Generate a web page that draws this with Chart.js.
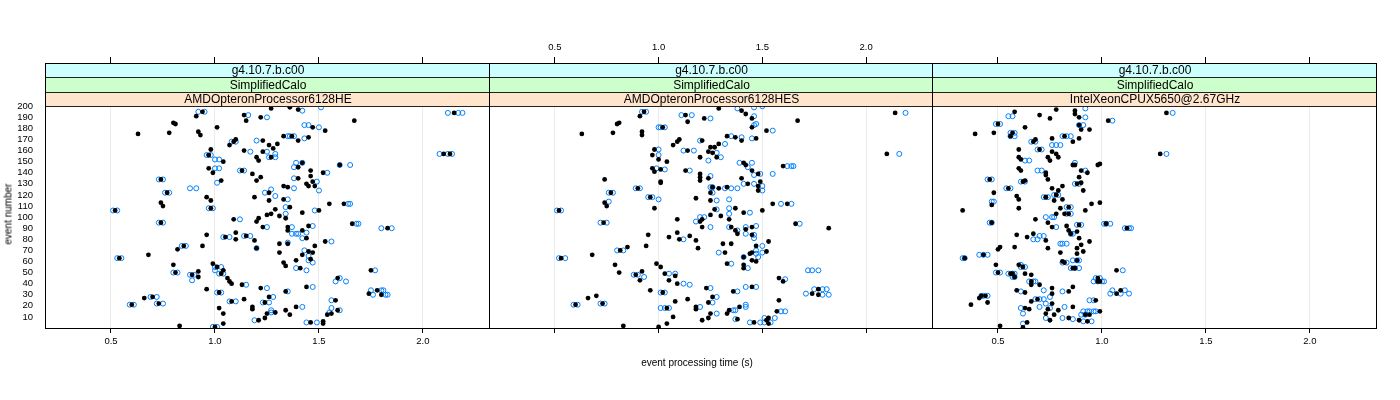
<!DOCTYPE html>
<html>
<head>
<meta charset="utf-8">
<script src="https://cdn.jsdelivr.net/npm/chart.js@4.4.1/dist/chart.umd.min.js"></script>
<style>
  body { margin: 0; background: #fff; }
  #wrap { position: relative; width: 1400px; height: 400px; font-family: "Liberation Sans", Arial, sans-serif; }
  canvas { position: absolute; top: 0; }
  .lab { position: absolute; font-size: 10px; color: #000; white-space: nowrap; }
</style>
</head>
<body>
<div id="wrap">
  <canvas id="p1" width="492" height="400" style="left:0px"></canvas>
  <canvas id="p2" width="447" height="400" style="left:488px"></canvas>
  <canvas id="p3" width="469" height="400" style="left:931px"></canvas>
  <div class="lab" style="left:697px; top:357px; transform:translateX(-50%)">event processing time (s)</div>
  <div class="lab" style="left:8px; top:214px; transform:translate(-50%,-50%) rotate(-90deg)">event number</div>
</div>
<script>
// strip labels
const release = "g4.10.7.b.c00";
const testName = "SimplifiedCalo";
const machines = ["AMDOpteronProcessor6128HE", "AMDOpteronProcessor6128HES", "IntelXeonCPUX5650@2.67GHz"];

const xTicks = [0.5, 1.0, 1.5, 2.0];
const yTicks = [10, 20, 30, 40, 50, 60, 70, 80, 90, 100, 110, 120, 130, 140, 150, 160, 170, 180, 190, 200];

// [time (s), event number] -- black = mean, blue = individual runs
const p1Black = [[2.15,194],[0.94,195],[0.91,191],[1.27,198],[1.36,199],[1.40,197],[1.14,192],[1.22,190],[1.15,187],[1.67,187],[0.81,184],[0.80,185],[1.47,181],[1.01,181],[1.53,178],[0.63,175],[0.78,176],[0.92,177],[0.93,174],[1.33,173],[1.45,172],[1.23,169],[1.10,170],[1.07,165],[1.30,166],[1.26,165],[1.28,162],[1.14,160],[1.23,159],[1.40,169],[0.98,161],[0.97,156],[1.04,150],[1.20,154],[1.21,151],[1.42,149],[1.40,145],[1.60,147],[2.10,157],[0.97,144],[0.99,140],[1.18,139],[1.46,142],[1.52,140],[1.20,133],[1.22,136],[1.40,135],[1.46,137],[1.47,132],[1.03,133],[1.33,128],[1.35,127],[1.44,130],[1.45,128],[1.48,128],[1.26,122],[0.96,118],[0.98,115],[1.19,118],[1.26,115],[1.33,116],[0.74,113],[0.75,110],[1.55,112],[1.62,112],[1.36,109],[1.29,107],[1.27,103],[1.25,102],[1.42,104],[1.50,106],[1.09,98],[1.21,99],[1.20,96],[1.31,101],[1.34,99],[1.66,94],[1.83,90],[1.23,91],[1.35,91],[1.45,92],[1.35,88],[1.42,88],[1.44,81],[0.96,84],[1.10,86],[1.10,80],[1.19,79],[1.31,76],[1.35,76],[0.82,71],[0.94,74],[1.20,72],[1.48,74],[1.53,78],[1.45,69],[1.31,68],[0.68,66],[1.42,66],[1.47,68],[1.46,62],[1.39,61],[1.33,59],[1.34,56],[1.41,54],[0.80,57],[0.99,58],[1.04,52],[0.92,46],[0.92,51],[1.06,45],[1.07,42],[1.08,40],[1.13,39],[1.75,52],[1.59,45],[0.96,35],[1.22,36],[1.34,33],[1.44,37],[1.78,34],[1.74,31],[1.80,30],[0.66,27],[1.02,18],[1.14,26],[1.18,19],[1.18,17],[1.26,28],[1.34,16],[1.39,19],[1.58,25],[1.04,13],[1.04,4],[0.83,2],[1.21,7],[1.24,9],[1.25,13],[1.29,14],[1.36,12],[1.46,5],[1.52,6],[1.52,4],[1.54,12],[1.56,13],[1.59,16],
  [0.52,106],[0.54,63],[0.74,134],[0.74,95],[0.77,122],[0.85,74],[0.81,50],[0.89,48],[0.70,28],[0.73,22],[0.60,21],[1.02,32],[0.98,108],[0.97,156],[1.13,142],[1.09,168],[1.05,82],[1.15,83],[1.08,24],[1.24,23],[1.00,1],[1.01,55],[1.03,49],[2.13,157],[1.27,154],[1.37,173]];
const p1Blue = [[2.12,194],[2.17,194],[2.19,194],[0.92,195],[0.95,195],[1.42,196],[1.51,199],[1.16,192],[1.25,190],[1.43,183],[1.45,183],[1.50,181],[1.35,173],[1.36,173],[1.38,173],[1.43,171],[1.20,169],[1.08,168],[1.10,168],[1.25,159],[1.17,159],[1.29,157],[0.96,156],[0.98,156],[1.00,152],[1.02,152],[1.26,154],[1.29,154],[1.39,149],[1.42,149],[1.38,145],[1.60,147],[1.65,147],[2.08,157],[2.12,157],[2.14,157],[1.00,144],[1.02,144],[1.12,142],[1.14,142],[1.54,140],[0.73,134],[0.75,134],[1.38,135],[1.49,132],[1.01,131],[0.88,126],[0.91,126],[1.38,126],[1.50,124],[1.27,125],[1.24,122],[0.76,122],[0.78,122],[1.29,119],[1.35,116],[0.97,108],[0.99,108],[1.64,112],[1.65,112],[0.51,106],[0.53,106],[1.34,109],[1.34,103],[1.48,106],[1.12,98],[0.73,95],[0.75,95],[1.68,94],[1.69,94],[1.80,90],[1.85,90],[1.25,91],[1.37,91],[1.47,92],[1.37,85],[1.39,85],[1.40,85],[1.44,86],[1.42,81],[1.04,82],[1.07,82],[1.14,83],[1.17,83],[1.35,77],[0.84,74],[0.86,74],[1.20,72],[1.56,78],[1.43,70],[0.53,63],[0.55,63],[1.45,65],[1.45,61],[1.47,59],[1.39,54],[1.44,52],[1.00,55],[1.03,55],[1.02,49],[1.04,49],[1.00,52],[0.80,50],[0.82,50],[0.88,48],[0.90,48],[0.89,43],[1.15,39],[1.77,52],[1.58,42],[1.60,45],[1.63,42],[1.01,32],[1.03,32],[1.25,36],[1.35,33],[1.47,37],[1.75,34],[1.80,34],[1.81,34],[1.76,30],[1.82,30],[1.83,30],[0.69,28],[0.72,28],[0.72,22],[0.75,22],[0.59,21],[0.61,21],[1.07,24],[1.10,24],[1.23,23],[1.26,23],[1.28,28],[1.42,19],[1.56,25],[0.99,1],[1.01,1],[1.19,7],[1.27,14],[1.27,16],[1.44,5],[1.49,5],[1.55,14],[1.56,18],[1.60,16]];

const p2Black = [[2.14,194],[0.93,195],[0.91,191],[1.29,198],[1.40,196],[1.42,193],[1.13,192],[1.22,189],[1.14,186],[1.67,187],[0.80,184],[0.81,185],[1.45,181],[1.45,189],[1.52,178],[0.63,175],[0.78,176],[0.92,177],[0.92,174],[1.33,173],[1.37,172],[1.47,171],[1.21,169],[1.40,169],[1.10,170],[1.09,168],[1.07,165],[1.29,166],[1.25,163],[1.27,163],[1.26,158],[1.24,159],[1.14,160],[0.98,161],[0.97,156],[1.00,152],[1.04,150],[1.20,154],[1.28,154],[1.41,149],[1.42,147],[1.60,146],[2.10,157],[0.97,144],[1.01,143],[0.98,141],[1.13,142],[1.20,139],[1.45,142],[1.48,139],[1.20,136],[0.74,134],[1.20,133],[1.24,135],[1.40,135],[1.49,132],[1.01,132],[1.01,131],[1.43,130],[1.48,128],[1.26,127],[1.29,126],[1.33,127],[1.48,124],[1.18,117],[1.25,122],[1.25,115],[0.74,113],[0.75,110],[0.98,108],[1.55,112],[1.62,112],[1.37,108],[1.27,107],[1.30,101],[1.34,98],[1.41,104],[1.50,106],[1.09,98],[1.25,102],[1.20,96],[1.21,98],[1.66,94],[1.82,90],[1.21,91],[1.35,91],[1.45,91],[1.42,89],[1.37,88],[1.38,85],[1.45,84],[0.95,84],[1.05,82],[1.09,86],[1.15,83],[1.10,80],[1.18,79],[1.19,72],[1.35,76],[1.31,76],[1.53,78],[1.47,74],[0.94,74],[0.85,73],[0.68,66],[1.45,68],[1.44,67],[1.52,69],[1.41,64],[1.45,61],[1.47,60],[1.32,68],[1.33,58],[1.41,57],[1.41,54],[0.79,57],[0.81,50],[0.99,58],[1.01,55],[0.92,51],[0.91,43],[1.03,49],[1.08,47],[1.05,43],[1.09,40],[1.58,45],[1.60,42],[0.96,34],[1.23,36],[1.36,33],[1.45,37],[1.77,35],[1.74,31],[1.77,30],[0.66,27],[0.70,29],[1.08,24],[1.14,26],[1.18,19],[1.18,17],[1.24,23],[1.26,28],[1.34,16],[1.39,19],[1.58,25],[1.25,13],[1.07,10],[1.53,9],[1.57,15],[1.21,7],[1.24,9],[1.38,8],[1.46,5],[1.52,7],[1.53,4],[1.04,4],[0.83,2],[1.00,1],[1.33,13],
  [0.52,106],[0.53,63],[0.735,95],[0.77,122],[0.815,70],[0.90,126],[0.89,48],[0.73,22],[0.60,21],[1.02,32],[1.02,181],[1.04,18],[0.96,118]];
const p2Blue = [[2.19,194],[0.92,195],[0.94,195],[1.38,198],[1.46,199],[1.50,200],[1.11,192],[1.16,192],[1.25,189],[1.00,181],[1.01,181],[1.03,181],[1.46,183],[1.47,184],[1.55,178],[1.46,191],[1.35,173],[1.40,172],[1.45,171],[1.20,169],[1.32,166],[1.28,158],[1.12,160],[1.17,160],[1.00,161],[1.00,156],[1.24,151],[1.30,154],[1.39,149],[1.45,149],[1.43,145],[1.62,146],[1.64,146],[1.65,146],[2.16,157],[0.99,144],[1.03,143],[1.15,142],[1.25,137],[1.49,139],[1.55,139],[1.46,138],[1.41,130],[1.46,130],[1.50,128],[1.25,127],[1.26,127],[1.32,126],[1.35,126],[1.38,126],[1.50,124],[0.89,126],[0.91,126],[0.76,122],[0.78,122],[0.95,118],[0.97,118],[1.00,116],[1.26,122],[1.28,115],[1.34,116],[0.76,114],[1.59,112],[1.64,112],[0.51,106],[0.53,106],[1.34,108],[1.28,107],[1.34,103],[1.44,104],[1.20,100],[1.22,100],[1.18,96],[0.72,95],[0.75,95],[1.68,94],[1.25,91],[1.34,91],[1.42,91],[1.47,92],[1.38,88],[1.42,85],[1.46,81],[1.46,84],[1.12,80],[1.50,74],[1.47,70],[0.80,70],[0.83,70],[0.52,63],[0.55,63],[1.47,67],[1.50,68],[1.48,64],[1.41,64],[1.29,68],[1.35,58],[1.43,54],[0.88,48],[0.90,48],[0.93,46],[1.05,49],[1.08,49],[1.12,40],[1.15,39],[1.72,52],[1.74,52],[1.77,52],[1.61,44],[1.01,32],[1.03,32],[1.25,36],[1.38,33],[1.42,37],[1.47,37],[1.75,35],[1.79,35],[1.81,35],[1.71,31],[1.79,30],[1.82,30],[0.72,22],[0.74,22],[0.59,21],[0.61,21],[1.01,18],[1.03,18],[1.05,18],[1.20,19],[1.26,23],[1.28,28],[1.36,16],[1.37,16],[1.42,19],[1.42,21],[1.28,13],[1.51,9],[1.56,9],[1.59,15],[1.61,15],[1.37,8],[1.44,5],[1.49,5],[1.51,5],[1.54,5]];

const p3Black = [[1.31,194],[1.03,187],[1.28,157],[0.58,195],[0.70,192],[0.75,189],[0.78,197],[0.87,193],[0.87,196],[0.89,190],[0.50,184],[0.63,181],[0.89,183],[0.94,179],[0.90,179],[0.57,176],[0.39,175],[0.48,176],[0.82,173],[0.76,171],[0.89,171],[0.86,168],[0.68,170],[0.60,161],[0.76,159],[0.78,157],[0.60,154],[0.79,154],[0.74,154],[0.75,151],[0.61,152],[0.87,147],[0.98,147],[0.99,148],[0.86,147],[0.60,144],[0.61,142],[0.90,142],[0.73,140],[0.93,140],[0.73,138],[0.89,136],[0.63,133],[0.74,134],[0.88,130],[0.90,131],[0.81,128],[0.76,126],[0.79,124],[0.91,124],[0.48,122],[0.73,118],[0.78,120],[0.81,116],[0.77,115],[0.59,119],[0.60,116],[0.47,111],[0.95,112],[0.99,113],[0.33,106],[0.60,108],[0.92,106],[0.82,103],[0.78,103],[0.80,108],[0.68,98],[0.74,95],[0.47,95],[1.02,94],[1.12,90],[0.76,91],[0.89,93],[0.83,92],[0.84,88],[0.85,85],[0.88,87],[0.59,84],[0.64,82],[0.67,85],[0.73,79],[0.89,81],[0.94,78],[0.90,75],[0.51,73],[0.58,73],[0.50,71],[0.74,72],[0.88,72],[0.91,69],[0.88,67],[0.80,68],[0.88,61],[0.81,60],[0.82,59],[0.49,57],[0.60,57],[0.62,55],[0.86,54],[1.07,52],[0.50,50],[0.56,49],[0.63,49],[0.66,48],[0.98,45],[0.98,42],[0.66,42],[0.66,39],[0.70,39],[0.76,36],[0.86,37],[0.84,33],[0.59,34],[0.63,32],[1.09,34],[1.07,31],[0.76,31],[0.42,29],[0.41,27],[0.45,23],[0.37,21],[0.69,26],[0.66,24],[0.97,25],[0.76,22],[0.74,17],[0.63,18],[0.86,19],[0.99,15],[0.94,12],[0.65,17],[0.79,16],[0.73,13],[0.77,12],[0.75,7],[0.84,9],[0.89,7],[0.93,6],[0.64,5],[0.51,2],[0.62,0.5],
  [0.46,134],[0.55,126],[0.62,132],[0.70,161],[0.67,168],[0.56,173],[0.73,118],[0.78,120],[0.84,109],[0.84,103],[0.34,63],[0.43,66],[0.57,49],[0.58,46],[0.87,54],[0.99,42],[0.44,29],[0.92,12]];
const p3Blue = [[1.34,194],[1.05,187],[1.31,157],[0.55,191],[0.57,191],[0.92,198],[0.92,190],[0.49,184],[0.51,184],[0.89,183],[0.91,183],[0.56,176],[0.58,176],[0.56,173],[0.58,173],[0.81,173],[0.83,173],[0.85,173],[0.66,168],[0.68,168],[0.76,165],[0.78,165],[0.80,165],[0.69,161],[0.71,161],[0.63,151],[0.65,151],[0.87,149],[0.69,142],[0.71,142],[0.92,142],[0.45,134],[0.47,134],[0.61,132],[0.63,132],[0.87,130],[0.89,130],[0.54,126],[0.56,126],[0.72,118],[0.74,118],[0.77,120],[0.79,120],[0.47,114],[0.48,114],[0.83,109],[0.85,109],[0.83,103],[0.85,103],[0.73,100],[0.76,100],[0.77,100],[0.46,95],[0.47,95],[1.01,94],[1.02,94],[1.04,94],[1.11,90],[1.13,90],[1.14,90],[0.78,91],[0.88,93],[0.90,93],[0.85,85],[0.86,85],[0.70,83],[0.72,83],[0.67,80],[0.69,80],[0.80,76],[0.81,76],[0.83,76],[0.41,66],[0.43,66],[0.45,66],[0.33,63],[0.34,63],[0.86,61],[0.88,61],[0.89,61],[0.81,59],[0.83,59],[0.61,57],[0.61,55],[0.63,55],[0.85,54],[0.87,54],[0.89,54],[1.10,52],[0.49,50],[0.51,50],[0.55,49],[0.57,49],[0.58,49],[0.57,46],[0.58,46],[0.97,45],[0.99,45],[0.96,42],[0.98,42],[1.00,42],[1.01,42],[0.65,42],[0.67,42],[0.68,42],[0.81,33],[0.72,34],[0.61,33],[1.05,34],[1.11,34],[1.04,31],[1.09,31],[1.13,31],[0.75,28],[0.42,29],[0.43,29],[0.45,29],[0.68,26],[0.70,26],[0.72,26],[0.94,25],[0.96,25],[0.73,22],[0.70,19],[0.61,18],[0.82,19],[0.75,18],[0.91,15],[0.93,15],[0.94,15],[0.96,15],[0.97,15],[0.90,12],[0.92,12],[0.62,13],[0.73,9],[0.81,9],[0.86,8],[0.91,6],[0.95,6],[0.62,4]];

const FONT = "'Liberation Sans', Arial, sans-serif";
const stripColors = ["#ccffff", "#ccffcc", "#ffe5cc"];

// strips + panel frame, drawn over the points like lattice does
const stripPlugin = {
  id: "strips",
  afterDatasetsDraw(chart) {
    const ctx = chart.ctx;
    const a = chart.chartArea;
    const y200 = chart.scales.y.getPixelForValue(200);
    const labels = [release, testName, chart.options.plugins.strips.machine];
    const h = (y200 - a.top) / 3;
    // shared edges between neighbouring panels land on the same page pixel
    const l = Math.round(a.left) - 0.5, r = Math.round(a.right) - 0.5;
    ctx.save();
    for (let i = 0; i < 3; i++) {
      const t = Math.round(a.top + i * h) + 0.5;
      const b = Math.round(a.top + (i + 1) * h) + 0.5;
      ctx.fillStyle = stripColors[i];
      ctx.fillRect(l, t, r - l, b - t);
      ctx.strokeStyle = "#222";
      ctx.lineWidth = 1;
      ctx.strokeRect(l, t, r - l, b - t);
      ctx.fillStyle = "#000";
      ctx.font = "12px " + FONT;
      ctx.textAlign = "center";
      ctx.textBaseline = "middle";
      ctx.fillText(labels[i], (a.left + a.right) / 2, (t + b) / 2 + 0.5);
    }
    ctx.strokeStyle = "#000";
    ctx.strokeRect(l, Math.round(a.top) + 0.5, r - l, Math.round(a.bottom) - Math.round(a.top));
    ctx.restore();
  }
};

function makePanel(id, black, blue, machine, o) {
  const toPts = arr => arr.map(p => ({ x: p[0], y: p[1] }));
  new Chart(document.getElementById(id), {
    type: "scatter",
    data: {
      datasets: [
        { data: toPts(black), pointRadius: 2.4, pointBackgroundColor: "#000", pointBorderWidth: 0 },
        { data: toPts(blue), pointRadius: 2.5, pointBackgroundColor: "rgba(0,0,0,0)", pointBorderColor: "#0080ff", pointBorderWidth: 1 }
      ]
    },
    options: {
      responsive: false,
      animation: false,
      events: [],
      layout: { padding: o.pad, autoPadding: false },
      plugins: { legend: { display: false }, tooltip: { enabled: false }, strips: { machine } },
      scales: {
        x: {
          type: "linear", position: "bottom", min: 0.1875, max: 2.3225,
          afterBuildTicks: s => { s.ticks = xTicks.map(v => ({ value: v })); },
          afterFit: s => { s.height = 72; },
          ticks: { display: o.bottom, callback: v => v.toFixed(1), color: "#000", font: { family: FONT, size: 9.5 }, padding: 3, maxRotation: 0, autoSkip: false },
          grid: { color: "#ebebeb", tickColor: "#000", tickLength: 5 },
          border: { display: false }
        },
        x2: {
          type: "linear", position: "top", min: 0.1875, max: 2.3225,
          afterBuildTicks: s => { s.ticks = xTicks.map(v => ({ value: v })); },
          afterFit: s => { s.height = 63; },
          ticks: { display: o.top, callback: v => v.toFixed(1), color: "#000", font: { family: FONT, size: 9.5 }, padding: 4, maxRotation: 0, autoSkip: false },
          grid: { drawOnChartArea: false, tickColor: "#000", tickLength: 6 },
          border: { display: false }
        },
        y: {
          display: o.yaxis, min: 0, max: 239,
          afterBuildTicks: s => { s.ticks = yTicks.map(v => ({ value: v })); },
          afterFit: s => { s.width = o.yaxis ? 46 : 0; },
          ticks: { color: "#000", font: { family: FONT, size: 9.5 }, padding: 5, autoSkip: false },
          grid: { display: false },
          border: { display: false }
        }
      }
    },
    plugins: [stripPlugin]
  });
}

makePanel("p1", p1Black, p1Blue, machines[0], { pad: { left: 0, right: 2, top: 0, bottom: 0 }, bottom: true, top: false, yaxis: true });
makePanel("p2", p2Black, p2Blue, machines[1], { pad: { left: 2, right: 2, top: 0, bottom: 0 }, bottom: false, top: true, yaxis: false });
makePanel("p3", p3Black, p3Blue, machines[2], { pad: { left: 2, right: 23, top: 0, bottom: 0 }, bottom: true, top: false, yaxis: false });
</script>
</body>
</html>
